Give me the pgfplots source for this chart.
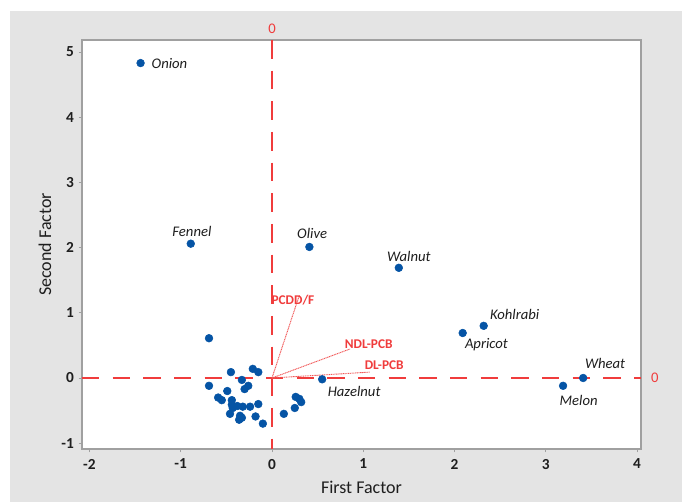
\documentclass[border=0pt]{standalone}
\usepackage{pgfplots}
\pgfplotsset{compat=1.18}
\usepackage{fontspec}
\setmainfont{Carlito}
\definecolor{bggray}{HTML}{E4E4E4}
\definecolor{framegray}{HTML}{A0A0A0}
\definecolor{ptblue}{HTML}{0554A5}
\definecolor{refred}{HTML}{F03C3C}
\definecolor{txt}{HTML}{1E1E1E}
\begin{document}
\begin{tikzpicture}
\useasboundingbox (0,0) rectangle (511.5pt,376.5pt);
\fill[bggray] (7.5pt,0) rectangle (511.5pt,368.25pt);
\begin{axis}[
  at={(61.5pt,39.75pt)}, anchor=south west,
  scale only axis, width=419.25pt, height=306.75pt,
  xmin=-2.082, xmax=4.044, ymin=-1.089, ymax=5.184,
  xtick={-2,-1,0,1,2,3,4}, ytick={-1,0,1,2,3,4,5},
  axis background/.style={fill=white},
  axis line style={framegray, line width=1.1pt},
  tick align=outside, major tick length=2.5pt,
  tick style={framegray, line width=0.6pt},
  xtick pos=bottom, ytick pos=left,
  /pgf/number format/assume math mode=true,
  ticklabel style={font=\fontsize{11.5}{13}\selectfont\bfseries, text=txt},
  xticklabel style={yshift=-1.5pt},
  xlabel={First Factor}, ylabel={Second Factor},
  label style={font=\fontsize{13.5}{16}\selectfont, text=txt},
  xlabel style={at={(axis description cs:0.5,0)}, anchor=center, yshift=-29pt},
  ylabel style={at={([xshift=-27.75pt]axis description cs:0,0.5)}, anchor=center},
  clip=false,
]
% reference lines
\addplot[refred, line width=1.5pt, dash pattern=on 14pt off 9pt] coordinates {(0,5.184) (0,-1.089)};
\addplot[refred, line width=1.5pt, dash pattern=on 13pt off 10pt] coordinates {(-2.082,0) (4.044,0)};
\node[refred, font=\fontsize{11}{13}\selectfont] at (axis cs:0,5.184) [above=1pt] {0};
\node[refred, font=\fontsize{11}{13}\selectfont] at (axis cs:4.044,0) [right=4pt] {0};
% loading vectors
\addplot[refred!85, line width=0.7pt, dash pattern=on 0.8pt off 0.5pt] coordinates {(0,0) (0.30,1.27)};
\addplot[refred!85, line width=0.7pt, dash pattern=on 0.8pt off 0.5pt] coordinates {(0,0) (0.855,0.445)};
\addplot[refred!85, line width=0.7pt, dash pattern=on 0.8pt off 0.5pt] coordinates {(0,0) (1.07,0.09)};
\node[refred, font=\fontsize{10}{12}\selectfont\bfseries] at (axis cs:0.23,1.20) {PCDD/F};
\node[refred, font=\fontsize{10}{12}\selectfont\bfseries] at (axis cs:1.06,0.52) {NDL-PCB};
\node[refred, font=\fontsize{10}{12}\selectfont\bfseries] at (axis cs:1.23,0.20) {DL-PCB};
% scores
\addplot[only marks, mark=*, mark size=2.9pt, ptblue, mark options={draw=ptblue, fill=ptblue}] coordinates {
(-1.44,4.83) (-0.89,2.06) (0.41,2.01) (1.39,1.69) (2.32,0.80) (2.09,0.69)
(3.41,0.00) (3.19,-0.12) (0.55,-0.02) (-0.69,0.61)
(-0.45,0.09) (-0.21,0.14) (-0.15,0.09) (-0.33,-0.03) (-0.69,-0.12)
(-0.26,-0.12) (-0.30,-0.17) (-0.49,-0.20) (-0.59,-0.30) (-0.55,-0.34)
(-0.44,-0.34) (-0.44,-0.41) (-0.43,-0.46) (-0.38,-0.43) (-0.32,-0.44)
(-0.24,-0.44) (-0.15,-0.40) (-0.46,-0.55) (-0.35,-0.58) (-0.36,-0.64)
(-0.33,-0.61) (-0.18,-0.59) (-0.10,-0.70) (0.13,-0.55) (0.25,-0.46)
(0.26,-0.29) (0.30,-0.32) (0.32,-0.37)
};
\tikzset{lab/.style={text=txt, font=\fontsize{11}{13}\selectfont\itshape}}
\node[lab, anchor=west] at (axis cs:-1.37,4.83) {Onion};
\node[lab] at (axis cs:-0.877,2.24) {Fennel};
\node[lab] at (axis cs:0.44,2.22) {Olive};
\node[lab] at (axis cs:1.50,1.86) {Walnut};
\node[lab] at (axis cs:2.66,0.97) {Kohlrabi};
\node[lab] at (axis cs:2.35,0.51) {Apricot};
\node[lab] at (axis cs:3.65,0.23) {Wheat};
\node[lab] at (axis cs:3.36,-0.34) {Melon};
\node[lab] at (axis cs:0.90,-0.21) {Hazelnut};
\end{axis}
\end{tikzpicture}
\end{document}
